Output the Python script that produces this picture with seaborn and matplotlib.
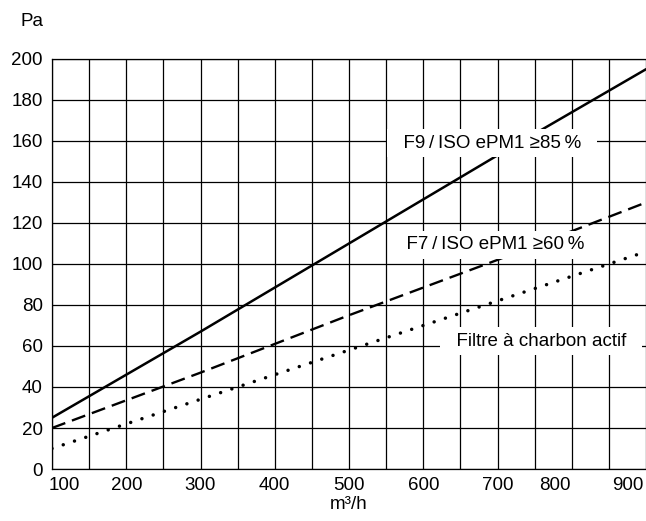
import matplotlib
matplotlib.use('Agg')
import matplotlib.pyplot as plt
import seaborn as sns
import pandas as pd

# airflow (m³/h) and pressure drop (Pa)
flow = [100, 300, 500, 700, 900]
f9_iso_85 = [25, 67, 110, 153, 195]
f7_iso_60 = [20, 47, 75, 102, 130]
carbon = [10, 34, 58, 82, 106]

x_tick_values = [100, 200, 300, 400, 500, 600, 700, 800, 900]
y_tick_values = [0, 20, 40, 60, 80, 100, 120, 140, 160, 180, 200]

sns.set_style('white')
plt.rcParams['font.family'] = ['Liberation Sans', 'DejaVu Sans']
plt.rcParams['text.color'] = 'black'

df = pd.DataFrame({'flow': flow, 'f9': f9_iso_85, 'f7': f7_iso_60, 'carbon': carbon})

fig = plt.figure(figsize=(6.46, 5.21), dpi=100)
ax = fig.add_axes([0.0805, 0.0998, 0.9195, 0.787])

sns.lineplot(data=df, x='flow', y='f9', ax=ax, color='black', lw=1.8, zorder=3)
sns.lineplot(data=df, x='flow', y='f7', ax=ax, color='black', lw=1.7,
             linestyle=(0, (6, 3)), zorder=3)
sns.lineplot(data=df, x='flow', y='carbon', ax=ax, color='black', lw=2.5,
             linestyle=(0, (0.01, 3.4)), dash_capstyle='round', zorder=3)

ax.set_xlim(100, 897)
ax.set_ylim(0, 200)

# grid every 50 m³/h; labels sit slightly off the lines like in the original
ax.xaxis.remove_overlapping_locs = False
ax.set_xticks(list(range(100, 901, 50)), minor=True)
ax.set_xticks([117, 200, 300, 400, 500, 600, 700, 777, 875])
ax.set_xticklabels([str(v) for v in x_tick_values])
ax.set_yticks(y_tick_values)
ax.grid(False)
ax.grid(which='minor', axis='x', color='black', lw=0.9)
ax.grid(which='major', axis='y', color='black', lw=0.9)
ax.tick_params(axis='both', which='both', length=0, labelsize=13.5, colors='black')
ax.tick_params(axis='x', pad=6)
ax.tick_params(axis='y', pad=6.5)

ax.spines['right'].set_visible(False)
for side in ['left', 'bottom', 'top']:
    ax.spines[side].set_color('black')
    ax.spines[side].set_linewidth(0.9)

ax.set_xlabel('m³/h', fontsize=13.5, labelpad=1, color='black')
ax.set_ylabel('')
fig.text(43 / 646, 1 - 21 / 521, 'Pa', fontsize=13.5, ha='right', va='center')

box = dict(boxstyle='square,pad=0.3', fc='white', ec='none')
ax.text(693, 159, '  F9\u2009/\u2009ISO ePM1 \u226585\u2009%  ', fontsize=13.5,
        ha='center', va='center', bbox=box, zorder=4)
ax.text(697, 109.3, '  F7\u2009/\u2009ISO ePM1 \u226560\u2009%  ', fontsize=13.5,
        ha='center', va='center', bbox=box, zorder=4)
ax.text(759, 62.4, '  Filtre à charbon actif  ', fontsize=13.5,
        ha='center', va='center', bbox=box, zorder=4)

plt.savefig('out.png', dpi=100)
